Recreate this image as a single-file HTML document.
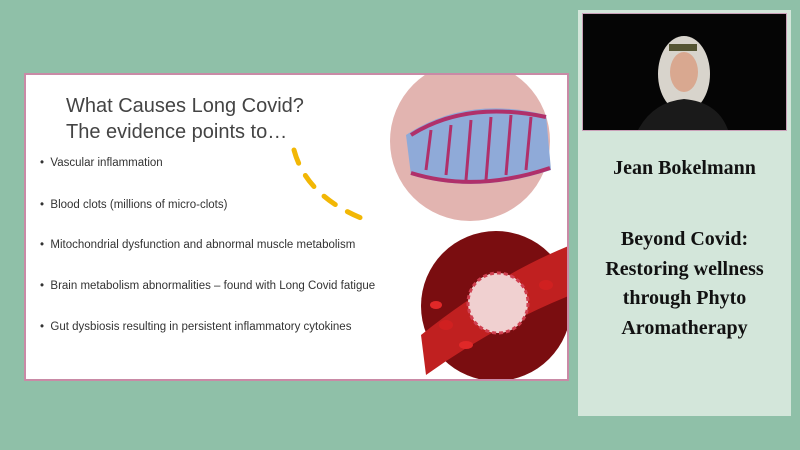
<!DOCTYPE html>
<html><head><style>
body{margin:0;width:800px;height:450px;background:#8fc0a8;position:relative;overflow:hidden;font-family:"Liberation Sans",sans-serif}
.slide{position:absolute;left:24px;top:73px;width:541px;height:304px;background:#fff;border:2px solid #c98aa6;overflow:hidden}
.t{position:absolute;left:40px;top:18px;font-size:20px;color:#444;line-height:26px}
.b{position:absolute;left:14px;font-size:11.5px;color:#333}
.panel{position:absolute;left:578px;top:10px;width:213px;height:406px;background:#d3e6da}
.vid{position:absolute;left:582px;top:13px;width:203px;height:116px;background:#050505;border:1px solid #c9a0b8}
.name{position:absolute;left:578px;width:213px;text-align:center;font-family:"Liberation Serif",serif;font-weight:bold;font-size:20px;color:#111;line-height:29.5px}
</style></head><body>
<div class="slide">
<div class="t">What Causes Long Covid?<br>The evidence points to…</div>
<div class="b" style="top:82px">•&nbsp;&nbsp;Vascular inflammation</div>
<div class="b" style="top:124px">•&nbsp;&nbsp;Blood clots (millions of micro-clots)</div>
<div class="b" style="top:164px">•&nbsp;&nbsp;Mitochondrial dysfunction and abnormal muscle metabolism</div>
<div class="b" style="top:205px">•&nbsp;&nbsp;Brain metabolism abnormalities – found with Long Covid fatigue</div>
<div class="b" style="top:246px">•&nbsp;&nbsp;Gut dysbiosis resulting in persistent inflammatory cytokines</div>
<svg width="541" height="304" style="position:absolute;left:0;top:0">
<path d="M268 75 Q280 120 335 143" fill="none" stroke="#f2b705" stroke-width="5" stroke-dasharray="14 14" stroke-linecap="round"/>
<circle cx="444" cy="66" r="80" fill="#e2b4b0"/>
<path d="M380 60 Q440 20 520 40 L525 95 Q450 120 385 100Z" fill="#8faad8"/>
<path d="M385 60 Q440 25 520 42 M385 98 Q450 118 524 93" stroke="#b0306a" stroke-width="4" fill="none"/>
<path d="M400 95 L405 55 M420 100 L425 50 M440 105 L445 45 M460 105 L465 42 M480 100 L485 40 M500 95 L505 42" stroke="#b0306a" stroke-width="3"/>
<circle cx="470" cy="231" r="75" fill="#7a0d10"/>
<path d="M395 260 Q470 200 545 170 L545 220 Q470 250 400 300Z" fill="#c02020"/>
<circle cx="472" cy="228" r="30" fill="#f0d0d0"/>
<circle cx="472" cy="228" r="30" fill="none" stroke="#d04050" stroke-width="3" stroke-dasharray="4 3"/>
<ellipse cx="420" cy="250" rx="7" ry="5" fill="#d02020"/><ellipse cx="520" cy="210" rx="7" ry="5" fill="#d02020"/>
<ellipse cx="410" cy="230" rx="6" ry="4" fill="#e02828"/><ellipse cx="440" cy="270" rx="7" ry="4" fill="#e02828"/>
</svg>
</div>
<div class="panel"></div>
<div class="vid">
<svg width="203" height="116"><ellipse cx="101" cy="60" rx="26" ry="38" fill="#d8d4cc"/><ellipse cx="101" cy="58" rx="14" ry="20" fill="#d9a890"/><path d="M55 116 Q70 88 101 85 Q135 88 145 116Z" fill="#1a1a1a"/><rect x="86" y="30" width="28" height="7" fill="#553"/></svg>
</div>
<div class="name" style="top:154px">Jean Bokelmann</div>
<div class="name" style="top:225px">Beyond Covid:<br>Restoring wellness<br>through Phyto<br>Aromatherapy</div>
</body></html>
